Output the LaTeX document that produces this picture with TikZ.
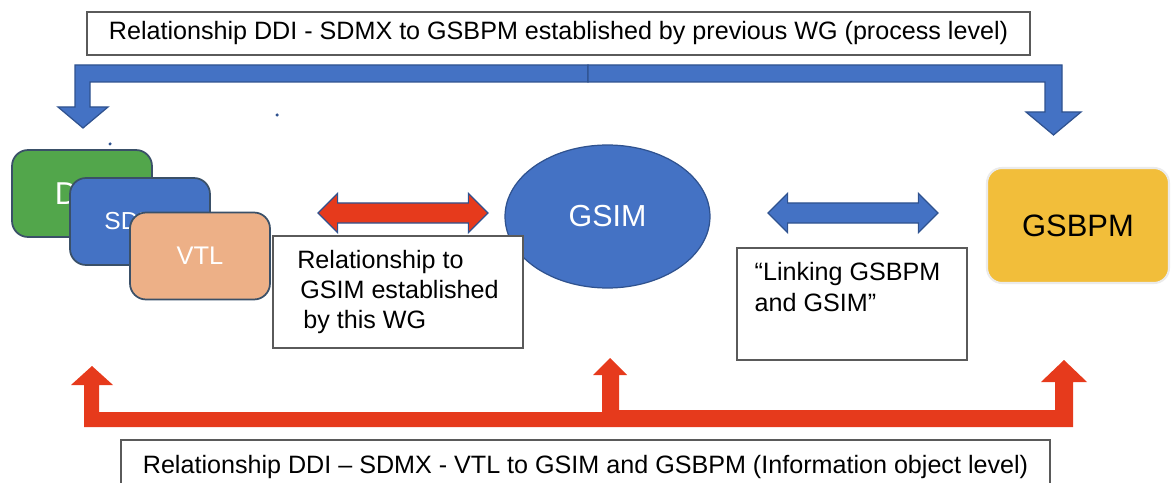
\documentclass[tikz,border=0pt]{standalone}
\usepackage{fontspec}
\setmainfont{Liberation Sans}
\usepackage{tikz}
\usetikzlibrary{shapes.geometric, shapes.arrows, positioning, calc}

\definecolor{msblue}{HTML}{4472C4}
\definecolor{msedge}{HTML}{2F528F}
\definecolor{msgreen}{HTML}{52A64B}
\definecolor{mstan}{HTML}{EDB087}
\definecolor{msgold}{HTML}{F2BE3A}
\definecolor{msred}{HTML}{E63A1C}
\definecolor{boxedge}{HTML}{5A5A5A}
\definecolor{stdedge}{HTML}{3A5068}

\begin{document}
\begin{tikzpicture}[
  x=0.02cm, y=-0.02cm,
  frame/.style={
    rectangle, draw=boxedge, fill=white, line width=0.8pt,
    inner sep=0pt, font=\fontsize{14.3}{17.2}\selectfont
  },
  std/.style={
    rectangle, rounded corners=0.32cm, draw=stdedge, line width=1pt,
    minimum width=2.8cm, minimum height=1.74cm, text=white, inner sep=0pt
  },
  blk/.style={fill=msblue, draw=msedge, line width=0.7pt},
  redblk/.style={fill=msred},
  dbl/.style={
    double arrow, double arrow head extend=0.19cm,
    minimum height=3.4cm, minimum width=0.76cm,
    inner xsep=0pt, inner ysep=0.19cm, line width=0.7pt, draw=msedge
  }
]

\useasboundingbox (0,0) rectangle (1171,483);
\clip (0,0) rectangle (1171,483);

% ── Process level (top) ──────────────────────────────────────
\node[frame, minimum width=18.86cm, minimum height=0.86cm] (prevwg) at (558.5,33.5)
  {Relationship DDI - SDMX to GSBPM established by previous WG (process level)};

\fill[blk] (588,65) -- (75,65) -- (75,107) -- (58,107) -- (83,128)
  -- (108,107) -- (90,107) -- (90,82) -- (588,82) -- cycle;
\fill[blk] (588,65) -- (1062,65) -- (1062,112) -- (1081,112) -- (1053.5,135)
  -- (1026,112) -- (1045,112) -- (1045,82) -- (588,82) -- cycle;

% stray dots
\fill[msedge] (110,144) circle (0.035cm);
\fill[msedge] (277,115) circle (0.035cm);

% ── Standards ────────────────────────────────────────────────
\node[std, fill=msgreen, font=\fontsize{18}{20}\selectfont] (ddi) at (82,193.5) {DDI};
\node[std, fill=msblue, font=\fontsize{14}{16}\selectfont] (sdmx) at (140,221.5) {SDMX};
\node[std, fill=mstan, font=\fontsize{14.5}{16}\selectfont] (vtl) at (200,256) {\raisebox{-0.12cm}{VTL}};

% ── Models ───────────────────────────────────────────────────
\node[ellipse, fill=msblue, draw=msedge, line width=0.7pt,
  minimum width=4.1cm, minimum height=2.86cm, text=white,
  font=\fontsize{17.3}{19}\selectfont] (gsim) at (607.5,216.5) {GSIM};

\node[rectangle, rounded corners=0.3cm, fill=msgold, draw=black!8, line width=1.2pt,
  minimum width=3.64cm, minimum height=2.3cm,
  font=\fontsize{17.6}{19}\selectfont] (gsbpm) at (1078,225.5) {GSBPM};

% ── Links ────────────────────────────────────────────────────
\node[dbl, fill=msred] (redlink) at (403,213) {};
\node[dbl, fill=msblue] (bluelink) at (853,213) {};

\node[frame, minimum width=5cm, minimum height=2.24cm, align=left] (thiswg) at (398,292)
  {Relationship to\\\hspace*{0.06cm}GSIM established\\\hspace*{0.12cm}by this WG};

\node[frame, minimum width=4.6cm, minimum height=2.24cm] (linking) at (852,304) {};
\node[anchor=north west, align=left, inner sep=0pt,
  font=\fontsize{14.3}{17.2}\selectfont] (linkingtxt)
  at ($(linking.north west)+(18,15)$) {“Linking GSBPM\\and GSIM”};

% ── Information object level (bottom) ────────────────────────
\fill[redblk] (602,412) -- (99,412) -- (99,385) -- (113,385) -- (92,366)
  -- (71,385) -- (84,385) -- (84,427) -- (602,427) -- cycle;
\fill[redblk] (602,427) -- (602,375) -- (593,375) -- (610,358) -- (627,375)
  -- (619,375) -- (619,410) -- (1055,410) -- (1055,382) -- (1041,382)
  -- (1064,360) -- (1087,382) -- (1073,382) -- (1073,427) -- cycle;

\node[frame, minimum width=18.58cm, minimum height=1.08cm] (infolvl) at (585.5,467)
  {Relationship DDI – SDMX - VTL to GSIM and GSBPM (Information object level)};

\end{tikzpicture}
\end{document}
